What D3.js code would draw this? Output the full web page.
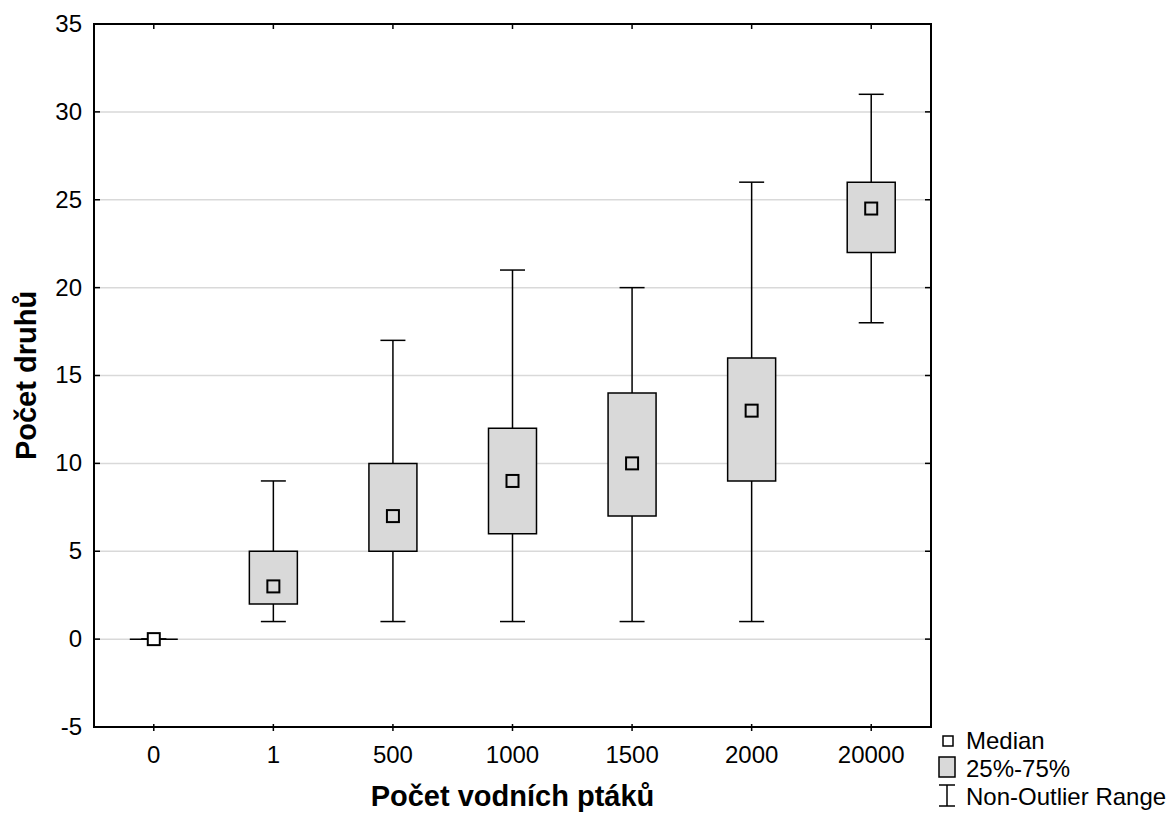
<!DOCTYPE html>
<html>
<head>
<meta charset="utf-8">
<script src="https://cdn.jsdelivr.net/npm/d3@7"></script>
<style>
  body { margin: 0; background: #fff; }
  text { font-family: "Liberation Sans", Arial, sans-serif; fill: #000; }
</style>
</head>
<body>
<script>
// data
const categories = ["0", "1", "500", "1000", "1500", "2000", "20000"];
const mins    = [0, 1, 1, 1, 1, 1, 18];
const q1s     = [0, 2, 5, 6, 7, 9, 22];
const medians = [0, 3, 7, 9, 10, 13, 24.5];
const q3s     = [0, 5, 10, 12, 14, 16, 26];
const maxs    = [0, 9, 17, 21, 20, 26, 31];
const yTicks  = [-5, 0, 5, 10, 15, 20, 25, 30, 35];

const width = 1171, height = 815;
const pLeft = 94, pRight = 931, pTop = 24, pBottom = 727;

const boxes = categories.map((c, i) => ({
    cat: c, min: mins[i], q1: q1s[i], med: medians[i], q3: q3s[i], max: maxs[i]
}));

const svg = d3.select("body").append("svg").attr("width", width).attr("height", height);

const x = d3.scaleBand().domain(categories).range([pLeft, pRight]).paddingOuter(0).paddingInner(0);
const y = d3.scaleLinear().domain([-5, 35]).range([pBottom, pTop]);
const cx = d => x(d) + x.bandwidth() / 2;

const boxW = 48, capW = 25, medW = 12;

// grid
svg.append("g").selectAll("line")
    .data(yTicks.filter(t => t > -5 && t < 35)).enter()
    .append("line")
    .attr("x1", pLeft).attr("x2", pRight)
    .attr("y1", d => y(d)).attr("y2", d => y(d))
    .style("stroke", "#d9d9d9")
    .style("stroke-width", 1.5);

// y axis labels + ticks
svg.append("g").selectAll("text")
    .data(yTicks).enter()
    .append("text")
    .attr("x", 82).attr("y", d => y(d))
    .attr("dy", "0.33em")
    .attr("text-anchor", "end")
    .attr("font-size", 24)
    .text(d => d);

const tk = svg.append("g").style("stroke", "#000").style("stroke-width", 1.5);
yTicks.forEach(t => {
    tk.append("line").attr("x1", pLeft).attr("x2", pLeft + 6).attr("y1", y(t)).attr("y2", y(t));
    tk.append("line").attr("x1", pRight - 6).attr("x2", pRight).attr("y1", y(t)).attr("y2", y(t));
});
categories.forEach(c => {
    tk.append("line").attr("x1", cx(c)).attr("x2", cx(c)).attr("y1", pTop).attr("y2", pTop + 5);
    tk.append("line").attr("x1", cx(c)).attr("x2", cx(c)).attr("y1", pBottom - 3).attr("y2", pBottom + 4);
});

// x labels
svg.append("g").selectAll("text")
    .data(categories).enter()
    .append("text")
    .attr("x", d => cx(d)).attr("y", 763)
    .attr("text-anchor", "middle")
    .attr("font-size", 24)
    .text(d => d);

// whiskers
const wk = svg.append("g").style("stroke", "#000").style("stroke-width", 1.5);
boxes.forEach(b => {
    const c = cx(b.cat);
    wk.append("line").attr("x1", c).attr("x2", c).attr("y1", y(b.max)).attr("y2", y(b.min));
    wk.append("line").attr("x1", c - capW / 2).attr("x2", c + capW / 2).attr("y1", y(b.max)).attr("y2", y(b.max));
    wk.append("line").attr("x1", c - capW / 2).attr("x2", c + capW / 2).attr("y1", y(b.min)).attr("y2", y(b.min));
});

// boxes (paths so a zero-height box still shows as a line)
svg.append("g").selectAll("path")
    .data(boxes).enter()
    .append("path")
    .attr("d", d => {
        const x0 = cx(d.cat) - boxW / 2, y0 = y(d.q3), h = y(d.q1) - y(d.q3);
        return `M${x0},${y0}h${boxW}v${h}h${-boxW}Z`;
    })
    .style("fill", "#d9d9d9")
    .style("stroke", "#000")
    .style("stroke-width", 1.5);

// medians
svg.append("g").selectAll("rect")
    .data(boxes).enter()
    .append("rect")
    .attr("x", d => cx(d.cat) - medW / 2)
    .attr("y", d => y(d.med) - medW / 2)
    .attr("width", medW).attr("height", medW)
    .style("fill", d => d.q1 === d.q3 ? "#fff" : "#d9d9d9")
    .style("stroke", "#000")
    .style("stroke-width", 2);

// frame
svg.append("rect")
    .attr("x", pLeft).attr("y", pTop)
    .attr("width", pRight - pLeft).attr("height", pBottom - pTop)
    .style("fill", "none")
    .style("stroke", "#000")
    .style("stroke-width", 2);

// axis titles
svg.append("text")
    .attr("transform", `translate(${[36, (pTop + pBottom) / 2]}) rotate(-90)`)
    .attr("text-anchor", "middle")
    .attr("font-size", 29)
    .attr("font-weight", "bold")
    .text("Počet druhů");

svg.append("text")
    .attr("x", (pLeft + pRight) / 2).attr("y", 806)
    .attr("text-anchor", "middle")
    .attr("font-size", 29)
    .attr("font-weight", "bold")
    .text("Počet vodních ptáků");

// legend
const lg = svg.append("g");
lg.append("rect").attr("x", 943).attr("y", 736).attr("width", 10).attr("height", 10)
    .style("fill", "#fff").style("stroke", "#000").style("stroke-width", 1.5);
lg.append("rect").attr("x", 939).attr("y", 757).attr("width", 16).attr("height", 20)
    .style("fill", "#d9d9d9").style("stroke", "#000").style("stroke-width", 1.5);
lg.append("line").attr("x1", 947).attr("x2", 947).attr("y1", 785).attr("y2", 806)
    .style("stroke", "#000").style("stroke-width", 1.5);
lg.append("line").attr("x1", 939).attr("x2", 955).attr("y1", 785).attr("y2", 785)
    .style("stroke", "#000").style("stroke-width", 1.5);
lg.append("line").attr("x1", 939).attr("x2", 955).attr("y1", 806).attr("y2", 806)
    .style("stroke", "#000").style("stroke-width", 1.5);

lg.selectAll("text")
    .data(["Median", "25%-75%", "Non-Outlier Range"]).enter()
    .append("text")
    .attr("x", 966)
    .attr("y", (d, i) => 749 + i * 28)
    .attr("font-size", 24)
    .text(d => d);
</script>
</body>
</html>
